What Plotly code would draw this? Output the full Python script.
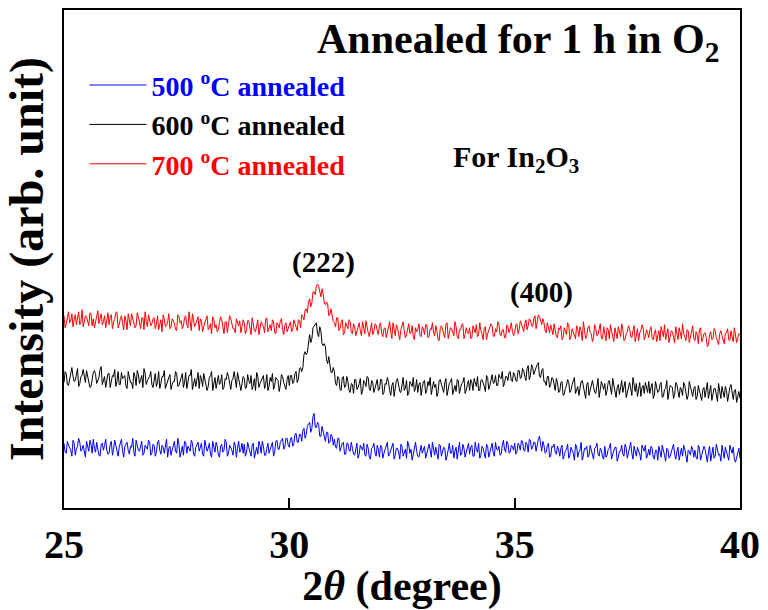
import numpy as np
import plotly.graph_objects as go

# 2-theta sampling grid (degree), step 0.025
two_theta = np.round(np.arange(25.0, 40.0001, 0.025), 3)

# Intensity (arb. unit), already offset for stacking.
# *_a : samples at 25.000, 25.050, ... 40.000 ; *_b : samples at 25.025, 25.075, ... 39.975
i700_a = [
    193,185,197,188,182,194,191,184,199,187,192,183,195,190,186,198,189,184,193,188,
    184,194,187,196,181,190,185,193,179,189,195,186,183,192,180,191,197,182,188,185,
    191,184,179,189,194,182,187,180,190,185,178,192,188,183,193,181,186,195,182,188,
    178,188,182,191,179,185,192,181,177,186,189,175,187,183,190,180,176,186,188,182,
    186,179,188,174,183,177,189,180,185,176,191,181,178,187,175,184,188,179,183,177,
    185,177,189,182,189,181,192,199,196,210,206,217,223,223,212,215,204,205,194,195,
    186,191,178,186,174,186,180,187,175,182,177,186,173,181,188,176,182,174,185,178,
    184,175,180,171,182,177,186,173,181,169,183,178,174,185,176,172,181,179,173,182,
    174,184,172,179,176,183,169,181,178,171,186,175,180,173,182,170,179,185,174,176,
    181,171,179,184,174,178,169,182,175,180,183,172,177,185,173,179,171,182,180,177,
    176,185,179,185,177,189,183,189,182,193,188,192,184,186,176,180,184,174,179,171,
    179,169,181,174,184,172,177,170,179,182,168,178,173,183,175,171,180,174,185,170,
    173,181,170,178,167,176,182,172,179,169,177,180,171,183,174,168,178,181,172,176,
    179,171,175,167,178,182,172,169,180,173,177,166,176,181,170,175,168,178,172,183,
    168,174,179,167,175,171,164,177,170,178,166,175,173,165,176,169,178,167,174,171,
    174,
]
i700_b = [
    181,192,186,195,189,184,197,187,182,193,188,196,183,181,193,185,195,187,181,196,
    192,180,189,197,184,193,179,188,195,183,190,181,196,186,191,179,187,194,183,190,
    180,193,185,177,190,183,195,182,188,179,194,186,180,191,184,197,178,189,185,192,
    190,177,186,193,181,175,189,184,179,192,182,187,176,193,185,180,190,183,176,189,
    175,188,180,191,178,185,174,187,182,190,177,184,189,176,186,181,190,174,186,180,
    187,179,186,178,188,194,189,200,207,202,217,214,225,215,220,206,207,193,200,187,
    182,191,180,189,176,183,189,176,185,173,183,178,187,175,181,172,186,177,184,174,
    186,172,181,176,187,170,180,184,174,179,187,171,182,175,183,169,177,185,172,180,
    184,171,180,186,173,178,168,183,175,185,170,181,176,187,172,179,184,170,181,175,
    170,183,176,172,186,175,181,169,178,185,173,180,187,174,179,171,184,176,186,173,
    184,175,188,179,185,179,190,183,190,180,194,186,190,178,186,176,180,185,172,181,
    183,171,177,186,169,180,175,183,172,178,187,170,181,176,167,184,173,179,170,182,
    168,179,184,172,181,170,177,185,168,175,183,172,178,167,180,176,184,169,179,171,
    182,169,179,173,168,177,184,175,166,178,171,182,169,175,185,172,179,166,177,170,
    177,165,181,170,176,162,174,169,180,171,164,178,169,175,180,168,172,181,166,175,
]
i600_a = [
    126,135,123,137,132,128,140,125,133,130,138,127,122,136,134,129,139,124,132,127,
    135,127,132,122,137,124,130,133,120,131,126,136,123,134,129,121,135,128,132,124,
    130,122,137,125,132,120,129,134,124,127,135,123,131,121,136,126,133,119,130,132,
    120,130,135,125,122,133,118,131,128,124,134,121,129,132,119,130,126,136,123,125,
    130,121,128,133,123,118,132,125,129,120,134,122,127,119,131,128,123,132,121,129,
    123,133,127,137,129,141,141,157,156,174,170,183,186,172,178,163,162,145,146,136,
    137,123,130,118,132,122,127,116,124,129,119,125,114,128,122,131,118,126,120,129,
    119,129,116,124,127,113,126,121,130,117,123,118,128,115,125,131,120,116,126,121,
    128,118,123,114,127,124,116,129,119,126,113,125,130,120,117,128,121,126,115,124,
    118,126,130,122,118,128,126,117,131,123,134,126,123,134,130,122,132,128,137,127,
    134,127,138,131,138,128,143,133,141,139,144,132,138,127,123,132,124,130,118,126,
    117,127,114,123,126,118,129,115,122,119,128,116,124,113,125,122,115,130,118,123,
    125,118,128,114,123,111,124,121,116,127,117,126,113,122,125,119,112,123,126,116,
    115,125,113,122,117,126,112,120,109,123,121,114,124,111,119,126,116,113,122,112,
    122,112,118,108,121,117,110,123,113,120,107,119,122,111,118,115,124,109,119,112,
    110,
]
i600_b = [
    137,124,130,141,127,135,122,132,139,126,133,121,129,138,125,131,142,128,121,135,
    121,133,139,127,124,136,131,122,137,126,120,132,138,125,133,140,124,130,137,121,
    135,126,120,132,138,124,131,119,127,137,122,129,135,126,120,133,139,125,122,136,
    133,122,129,118,131,137,124,120,133,126,119,130,136,123,128,137,121,131,118,132,
    120,134,125,119,130,136,121,128,133,124,118,131,135,123,129,117,134,126,119,133,
    133,125,135,126,140,137,154,154,169,166,181,185,175,182,165,165,149,152,136,141,
    125,132,119,131,121,132,118,125,115,129,121,130,117,126,132,119,128,116,125,118,
    129,114,125,131,118,123,112,128,124,116,131,120,113,127,122,117,129,124,113,127,
    115,127,131,119,121,112,128,124,116,130,121,127,114,123,129,115,125,131,118,128,
    129,118,126,132,118,129,122,133,119,131,125,133,123,131,137,125,132,136,128,136,
    128,138,130,140,132,140,129,144,134,141,146,131,140,127,132,121,131,121,130,116,
    126,113,120,129,116,124,131,118,113,127,121,110,126,119,128,116,124,111,127,119,
    113,126,119,130,117,121,114,128,122,111,124,120,131,117,112,126,121,115,119,127,
    121,110,127,116,124,111,119,128,115,122,110,126,117,121,113,123,109,127,116,120,
    109,123,113,119,111,126,117,108,120,114,125,110,116,122,107,121,113,118,106,117,
]
i500_a = [
    65,55,63,58,68,53,62,66,59,54,67,57,64,69,56,61,52,65,63,58,
    55,67,59,63,52,65,57,62,66,54,61,56,68,58,64,53,63,59,66,55,
    63,56,68,54,61,65,51,62,58,67,55,64,59,53,66,62,57,65,52,63,
    57,65,52,63,60,54,67,56,62,51,64,58,66,55,61,53,63,60,56,65,
    64,56,61,52,65,58,54,63,67,53,60,55,63,52,67,59,66,70,61,70,
    61,71,65,75,66,74,78,70,82,86,80,95,81,84,72,78,67,76,66,72,
    69,60,70,61,66,54,65,57,60,53,65,54,60,65,52,60,49,61,56,63,
    51,61,55,64,52,58,65,53,60,49,62,56,50,63,59,54,66,52,58,55,
    62,54,64,51,59,61,49,63,56,60,52,65,55,50,61,58,53,64,51,59,
    54,63,52,59,65,53,60,50,62,55,65,52,59,62,54,68,56,65,56,62,
    65,56,63,68,58,66,56,68,61,66,65,72,57,63,56,65,52,61,56,62,
    52,63,54,59,50,61,55,64,51,58,48,60,62,53,57,49,61,54,60,51,
    62,53,60,49,58,61,51,57,54,64,50,59,55,62,52,58,48,60,63,53,
    53,60,49,58,62,51,56,47,59,52,61,54,57,48,60,63,50,58,53,59,
    58,49,60,53,62,51,56,47,61,52,59,54,63,50,57,48,59,61,46,58,
    50,
]
i500_b = [
    56,67,60,52,65,59,70,57,63,51,62,68,55,60,66,53,64,58,69,54,
    64,53,68,56,61,69,51,65,58,62,70,52,63,57,67,55,61,68,53,64,
    52,66,58,63,55,69,60,53,64,57,70,51,62,67,55,59,68,54,61,66,
    63,54,68,57,65,51,60,66,53,62,56,69,52,63,58,66,51,67,59,55,
    52,66,57,63,50,61,67,55,62,53,65,58,66,56,68,59,68,59,70,63,
    70,62,74,66,74,67,80,74,84,76,92,81,86,72,82,72,76,65,74,63,
    61,70,57,65,54,65,58,66,54,60,50,63,58,53,64,51,60,65,52,59,
    63,50,59,66,54,61,49,60,56,64,52,59,67,55,48,62,57,51,63,58,
    50,60,58,66,53,56,64,52,61,48,59,55,63,57,49,66,54,60,57,65,
    61,52,66,56,50,62,55,64,51,59,55,66,58,53,63,59,67,55,63,58,
    54,65,58,67,57,64,69,59,66,57,69,61,67,55,63,51,62,64,54,59,
    60,49,57,64,53,58,48,62,56,66,53,59,51,63,55,60,65,52,58,49,
    51,59,65,54,61,47,57,63,52,60,55,66,49,58,61,54,63,57,50,59,
    62,51,58,48,56,63,53,60,50,57,64,49,61,55,52,59,46,57,62,51,
    51,63,48,57,59,46,62,55,50,64,53,47,58,61,52,63,55,49,52,60,
]

series_names = ["500 <sup>o</sup>C annealed", "600 <sup>o</sup>C annealed", "700 <sup>o</sup>C annealed"]
series_colors = ["#0000ff", "#000000", "#ff0000"]
series_parts = [(i500_a, i500_b), (i600_a, i600_b), (i700_a, i700_b)]

peak_labels = ["(222)", "(400)"]
peak_x = [30.76, 35.59]
peak_y = [246, 216]

x_ticks = [25, 30, 35, 40]

FONT = "Liberation Serif, Times New Roman, serif"


def merge(a, b):
    """Put the two typed sample lists in 2-theta order."""
    if len(a) != 301 or len(b) != 300:
        raise ValueError(f"bad lengths {len(a)} {len(b)}")
    out = np.empty(601)
    out[0::2] = a
    out[1::2] = b
    return out


fig = go.Figure()
for k, (name, col, (a, b)) in enumerate(zip(series_names, series_colors, series_parts)):
    fig.add_trace(go.Scatter(
        x=two_theta, y=merge(a, b), mode="lines",
        line=dict(color=col, width=1),
        name=f'<span style="color:{col}">{name}</span>',
        legendgroup=f"g{k}",
    ))

for lab, px, py in zip(peak_labels, peak_x, peak_y):
    fig.add_annotation(x=px, y=py, xref="x", yref="y", text=f"<b>{lab}</b>",
                       showarrow=False, font=dict(family=FONT, size=29, color="black"))

fig.add_annotation(x=0.974, y=0.936, xref="paper", yref="paper", xanchor="right", yanchor="middle",
                   text="<b>Annealed for 1 h in O<sub>2</sub></b>", showarrow=False,
                   font=dict(family=FONT, size=42, color="black"))
fig.add_annotation(x=0.572, y=0.70, xref="paper", yref="paper", xanchor="left", yanchor="middle",
                   text="<b>For In<sub>2</sub>O<sub>3</sub></b>", showarrow=False,
                   font=dict(family=FONT, size=30, color="black"))

fig.update_layout(
    width=768, height=610,
    margin=dict(l=64, r=24, t=8, b=102),
    paper_bgcolor="white", plot_bgcolor="white",
    font=dict(family=FONT, color="black"),
    showlegend=True,
    legend=dict(x=0.0303, y=0.899, xanchor="left", yanchor="top",
                bgcolor="rgba(0,0,0,0)", borderwidth=0,
                font=dict(family=FONT, size=28, weight="bold"),
                traceorder="grouped", tracegroupgap=0, itemwidth=57),
    xaxis=dict(range=[25, 40], tickvals=x_ticks, ticktext=[str(t) for t in x_ticks],
               ticks="inside", ticklen=10, tickwidth=2, tickcolor="black",
               showline=True, linewidth=2, linecolor="black", mirror=True,
               showgrid=False, zeroline=False,
               tickfont=dict(family=FONT, size=40, weight="bold"),
               title=dict(text="<b>2<i>θ</i> (degree)</b>", standoff=4,
                          font=dict(family=FONT, size=42))),
    yaxis=dict(range=[0, 500], showticklabels=False, ticks="",
               showline=True, linewidth=2, linecolor="black", mirror=True,
               showgrid=False, zeroline=False,
               title=dict(text="<b>Intensity (arb. unit)</b>", standoff=4,
                          font=dict(family=FONT, size=48))),
)

fig.write_html("out.html")
